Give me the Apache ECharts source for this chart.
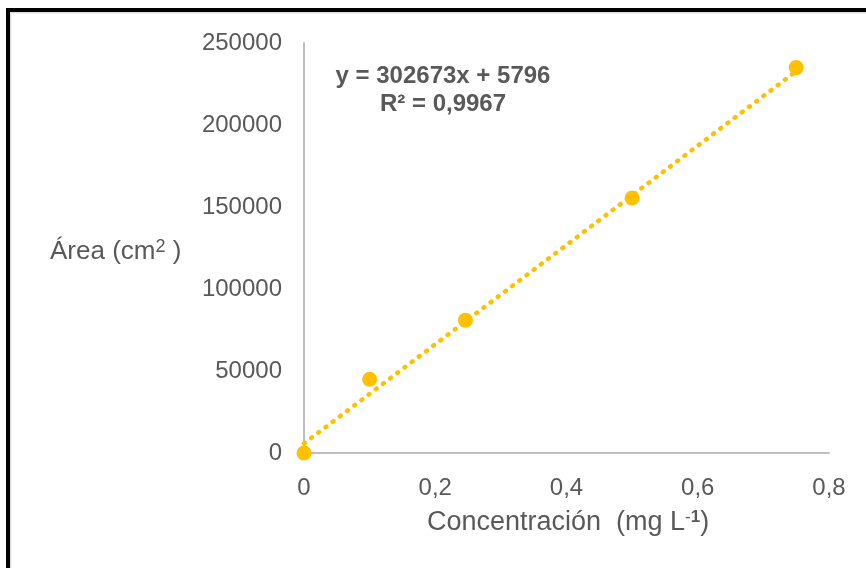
<!DOCTYPE html>
<html>
<head>
<meta charset="utf-8">
<script src="https://cdn.jsdelivr.net/npm/echarts@6/dist/echarts.min.js"></script>
<style>
  html, body { margin: 0; padding: 0; background: #fff; }
  #chart { width: 866px; height: 568px; }
</style>
</head>
<body>
<div id="chart"></div>
<script>
// curva de calibración: área vs concentración
var concentracion = [0, 0.1, 0.246, 0.5, 0.75];
var area = [0, 45000, 81000, 155500, 235000];
// línea de tendencia (extremos según y = 302673x + 5796)
var trendX = [0, 0.75];
var trendY = [5796, 232801];
var eqLabel = "y = 302673x + 5796";
var r2Label = "R² = 0,9967";
var xTicks = [0, 0.2, 0.4, 0.6, 0.8];
var yTicks = [0, 50000, 100000, 150000, 200000, 250000];

var chart = echarts.init(document.getElementById("chart"));
var textColor = "#595959";
var axisColor = "#bfbfbf";
var amarillo = "#ffc000";

chart.setOption({
  animation: false,
  backgroundColor: "#fff",
  grid: { left: 304, right: 37, top: 43, bottom: 115 },
  xAxis: {
    type: "value",
    min: xTicks[0],
    max: xTicks[xTicks.length - 1],
    interval: 0.2,
    axisLine: { show: true, lineStyle: { color: axisColor, width: 2 } },
    axisTick: { show: false },
    splitLine: { show: false },
    axisLabel: {
      margin: 23,
      color: textColor,
      fontSize: 24,
      fontFamily: "Liberation Sans",
      formatter: function (v) {
        return String(+v.toFixed(1)).replace(".", ",");
      }
    }
  },
  yAxis: {
    type: "value",
    min: yTicks[0],
    max: yTicks[yTicks.length - 1],
    interval: 50000,
    axisLine: { show: true, lineStyle: { color: axisColor, width: 2 } },
    axisTick: { show: false },
    splitLine: { show: false },
    axisLabel: {
      margin: 22,
      color: textColor,
      fontSize: 24,
      fontFamily: "Liberation Sans",
      formatter: function (v) { return String(v); }
    }
  },
  graphic: [
    {
      type: "rect",
      silent: true,
      shape: { x: 10.5, y: 12.5, width: 900, height: 600 },
      style: { fill: null, stroke: "#e0e0e0", lineWidth: 2 }
    },
    {
      type: "rect",
      silent: true,
      shape: { x: 8, y: 10, width: 900, height: 600 },
      style: { fill: null, stroke: "#000", lineWidth: 4 }
    },
    {
      type: "text",
      left: 50,
      top: 238,
      style: {
        text: "Área (cm{sup|2} )",
        fill: textColor,
        font: "26px 'Liberation Sans'",
        rich: {
          sup: { fontSize: 18, padding: [0, 0, 10, 0], fill: textColor, fontFamily: "Liberation Sans" }
        }
      }
    },
    {
      type: "text",
      left: 427,
      top: 509,
      style: {
        text: "Concentración  (mg L{sup|-}{supb|1})",
        fill: textColor,
        font: "27px 'Liberation Sans'",
        rich: {
          sup: { fontSize: 17, padding: [0, 0, 11, 0], fill: textColor, fontFamily: "Liberation Sans" },
          supb: { fontSize: 17, fontWeight: "bold", padding: [0, 0, 11, 0], fill: textColor, fontFamily: "Liberation Sans" }
        }
      }
    },
    {
      type: "text",
      x: 443,
      y: 62,
      style: {
        text: eqLabel + "\n" + r2Label,
        fill: textColor,
        align: "center",
        font: "bold 24px 'Liberation Sans'",
        lineHeight: 28
      }
    }
  ],
  series: [
    {
      name: "tendencia",
      type: "line",
      symbol: "none",
      silent: true,
      data: trendX.map(function (x, i) { return [x, trendY[i]]; }),
      lineStyle: { color: amarillo, width: 4.5, type: [1, 8], cap: "round" },
      z: 2
    },
    {
      name: "área",
      type: "scatter",
      symbolSize: 15,
      clip: false,
      data: concentracion.map(function (x, i) { return [x, area[i]]; }),
      itemStyle: { color: amarillo, opacity: 1 },
      z: 3
    }
  ]
});
</script>
</body>
</html>
